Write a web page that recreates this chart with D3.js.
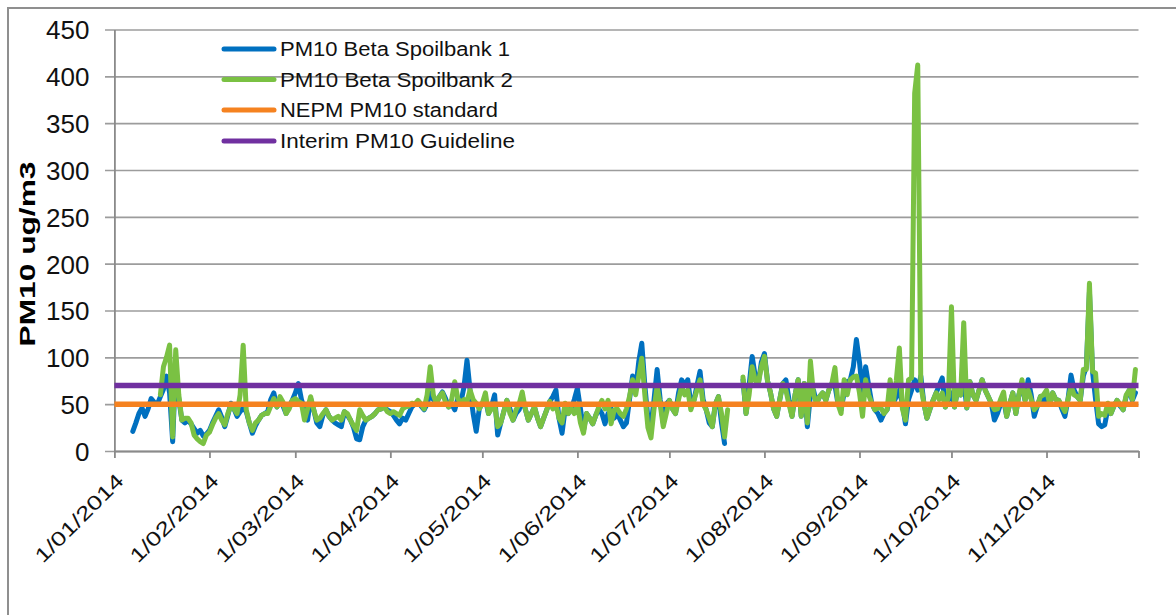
<!DOCTYPE html>
<html><head><meta charset="utf-8">
<script src="https://cdn.jsdelivr.net/npm/d3@7"></script>
<style>body{margin:0;background:#fff}svg{display:block}</style>
</head><body>
<svg id="c" width="1176" height="615"></svg>
<script>
// ---- data ----
const series1Start = "2014-01-07";   // PM10 Beta Spoilbank 1, daily values
const pm10Spoilbank1 = [
21,30,40,46,37,45,56,52,50,58,
66,80,62,10,90,55,33,30,33,29,
24,19,22,16,18,22,30,37,44,36,
26,38,51,45,37,42,46,42,30,19,
27,33,38,40,42,55,62,47,52,48,
40,48,54,62,72,55,45,33,56,44,
30,26,38,44,37,33,30,28,26,42,
38,33,25,13,12,26,33,35,37,40,
44,45,47,44,42,38,33,29,35,33,
40,47,50,52,48,44,50,62,55,51,
58,63,56,47,50,44,56,52,68,97,
65,40,21,45,51,55,40,48,60,17,
30,42,54,45,33,40,44,55,45,33,
40,47,35,26,35,44,53,58,65,35,
19,45,40,45,55,67,45,22,40,35,
29,38,45,40,29,40,45,35,40,33,
26,30,55,80,65,95,115,70,35,26,
55,87,55,30,50,54,45,40,62,76,
70,76,50,54,70,85,55,44,30,26,
50,58,30,8,null,null,null,null,null,76,
40,70,101,80,72,95,104,75,62,45,
37,55,72,76,55,37,60,76,37,72,
26,60,65,51,58,62,54,65,72,70,
50,44,62,74,76,90,119,95,62,90,
70,51,44,40,33,40,44,60,51,58,
65,50,29,55,65,76,65,80,51,35,
45,54,62,70,78,47,55,62,47,65,
60,76,46,74,60,54,65,76,65,58,
51,33,40,50,55,37,50,62,40,60,
70,54,76,60,37,48,58,52,58,51,
62,55,54,45,37,55,81,65,58,54,
80,90,170,85,55,29,26,28,45,40,
48,54,48,44,58,65,54,62
];
const series2Start = "2014-01-16";   // PM10 Beta Spoilbank 2, daily values
const pm10Spoilbank2 = [
60,90,100,113,15,108,60,33,35,35,
30,17,13,10,8,17,20,28,35,40,
33,28,40,48,45,40,60,113,44,30,
22,30,33,38,40,40,48,56,47,58,
52,40,45,54,56,53,51,33,45,58,
44,33,35,40,44,37,33,35,37,33,
42,40,33,27,22,44,38,33,35,37,
40,44,45,47,42,40,42,40,38,45,
47,48,51,50,54,50,45,60,90,60,
51,58,62,52,47,55,74,56,52,55,
53,65,55,51,45,51,62,40,45,50,
26,30,42,54,40,33,44,50,63,45,
33,40,47,35,26,35,44,53,45,50,
35,30,51,40,45,40,50,30,19,40,
35,29,38,47,54,45,54,29,44,45,
40,37,45,58,76,60,80,99,60,25,
14,45,69,50,26,40,54,45,40,55,
69,60,65,44,54,65,76,50,44,35,
26,50,58,40,15,44,null,null,null,null,
79,40,60,90,75,72,90,101,75,62,
45,37,55,72,65,50,37,60,76,37,
72,30,96,60,51,58,62,54,65,72,
89,50,40,76,60,76,79,80,62,37,
76,60,51,44,46,46,40,44,76,51,
75,110,45,33,76,78,382,412,70,51,
35,45,54,62,55,62,47,58,154,47,
65,60,137,46,74,60,54,65,76,65,
58,51,44,45,55,63,37,50,62,40,
60,76,54,65,55,44,48,58,60,65,
51,62,55,54,48,42,55,69,60,58,
54,87,87,179,85,83,37,40,38,51,
40,48,54,50,44,60,65,55,87
];
const nepmStandard = [50, 50];        // at axis start and end
const interimGuideline = [70, 70];
const axisDates = ["2014-01-01", "2014-12-01"];
const yTicks = [0,50,100,150,200,250,300,350,400,450];
const monthTicks = ["2014-01-01","2014-02-01","2014-03-01","2014-04-01","2014-05-01","2014-06-01",
                    "2014-07-01","2014-08-01","2014-09-01","2014-10-01","2014-11-01","2014-12-01"];
const monthLabels = ["1/01/2014","1/02/2014","1/03/2014","1/04/2014","1/05/2014","1/06/2014",
                     "1/07/2014","1/08/2014","1/09/2014","1/10/2014","1/11/2014",""];
const legendLabels = ["PM10 Beta Spoilbank 1","PM10 Beta Spoilbank 2","NEPM PM10 standard","Interim PM10 Guideline"];
const yTitle = "PM10 ug/m3";

// ---- drawing ----
const FONT = "'Liberation Sans', Arial, sans-serif";
const colors = ["#0070C0", "#7AC143", "#F58220", "#7030A0"];
const svg = d3.select("#c");
const parse = d3.utcParse("%Y-%m-%d");
const X0 = 114.4, X1 = 1138.5, Y0 = 451, Y1 = 29.5;
const x = d3.scaleUtc().domain(axisDates.map(parse)).range([X0, X1]);
const y = d3.scaleLinear().domain([0, 450]).range([Y0, Y1]);

svg.append("rect").attr("width",1176).attr("height",615).attr("fill","#fff");
svg.append("rect").attr("x",8).attr("y",8).attr("width",1300).attr("height",800)
  .attr("fill","none").attr("stroke","#8f8f8f").attr("stroke-width",2);

// gridlines (incl. left tick marks)
svg.append("g").attr("transform","translate(105,0)")
  .call(d3.axisLeft(y).tickValues(yTicks).tickSize(-(X1-105)).tickFormat(""))
  .call(g => g.select(".domain").remove())
  .selectAll("line").attr("stroke","#9c9c9c").attr("stroke-width",1.6);

// y axis
const ya = svg.append("g").attr("transform",`translate(${X0},0)`)
  .call(d3.axisLeft(y).tickValues(yTicks).tickSize(0).tickPadding(25));
ya.select(".domain").attr("stroke","#8a8a8a").attr("stroke-width",1.8);
ya.selectAll("text").attr("font-family",FONT).attr("font-size",26).attr("fill","#111").attr("dy","0.36em");

// x axis
const xa = svg.append("g").attr("transform",`translate(0,${Y0})`)
  .call(d3.axisBottom(x).tickValues(monthTicks.map(parse)).tickSizeInner(7).tickSizeOuter(0)
        .tickFormat((d,i) => monthLabels[i]));
xa.select(".domain").attr("stroke","#8a8a8a").attr("stroke-width",1.8);
xa.selectAll("line").attr("stroke","#8a8a8a").attr("stroke-width",1.8);
xa.selectAll("text").attr("font-family",FONT).attr("font-size",20).attr("fill","#111")
  .attr("x",0).attr("y",0).attr("dy","0")
  .attr("textLength", (d,i) => monthLabels[i] ? 116 : null)
  .attr("lengthAdjust","spacingAndGlyphs")
  .attr("transform","translate(10,31) rotate(-45)").style("text-anchor","end");

// y title
svg.append("text").attr("transform","translate(35,254) rotate(-90)")
  .attr("text-anchor","middle").attr("font-family",FONT).attr("font-weight","bold")
  .attr("font-size",22).attr("textLength",185).attr("lengthAdjust","spacingAndGlyphs")
  .attr("fill","#000").text(yTitle);

// series
function dailyLine(start, vals, color) {
  const s = parse(start);
  const pts = vals.map((v,i) => ({d: d3.utcDay.offset(s, i), v}));
  svg.append("path").datum(pts)
    .attr("d", d3.line().defined(p => p.v != null).x(p => x(p.d)).y(p => y(p.v)))
    .attr("fill","none").attr("stroke",color).attr("stroke-width",5)
    .attr("stroke-linejoin","round").attr("stroke-linecap","round");
}
dailyLine(series1Start, pm10Spoilbank1, colors[0]);
dailyLine(series2Start, pm10Spoilbank2, colors[1]);

function refLine(vals, color) {
  const pts = axisDates.map((d,i) => ({d: parse(d), v: vals[i]}));
  svg.append("path").datum(pts)
    .attr("d", d3.line().x(p => x(p.d)).y(p => y(p.v)))
    .attr("fill","none").attr("stroke",color).attr("stroke-width",5.5);
}
refLine(nepmStandard, colors[2]);
refLine(interimGuideline, colors[3]);

// legend
const legRows = [49, 79.5, 110, 141];
const legW = [230, 233, 218, 235];
const leg = svg.append("g");
legendLabels.forEach((t,i) => {
  leg.append("line").attr("x1",224).attr("x2",274).attr("y1",legRows[i]).attr("y2",legRows[i])
    .attr("stroke",colors[i]).attr("stroke-width",5).attr("stroke-linecap","round");
  leg.append("text").attr("x",280).attr("y",legRows[i]+7.3)
    .attr("font-family",FONT).attr("font-size",19.5).attr("fill","#111")
    .attr("textLength",legW[i]).attr("lengthAdjust","spacingAndGlyphs").text(t);
});
</script>
</body></html>
